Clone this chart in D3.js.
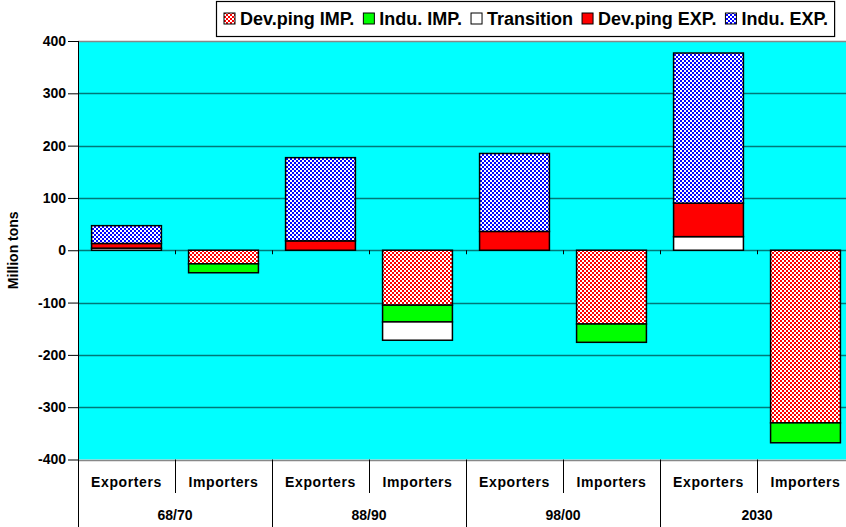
<!DOCTYPE html>
<html>
<head>
<meta charset="utf-8">
<script src="https://cdn.jsdelivr.net/npm/d3@7"></script>
<style>
  body { margin: 0; background: #fff; }
  text { font-family: "Liberation Sans", Arial, sans-serif; font-weight: bold; fill: #000; }
</style>
</head>
<body>
<div id="plot"></div>
<script>
// chart data
const groups = ["68/70", "88/90", "98/00", "2030"];
const roles = ["Exporters", "Importers"];
const yTicks = [400, 300, 200, 100, 0, -100, -200, -300, -400];

// one value per bar (Exporters, Importers for each period)
const devImp     = [0, -26, 0, -105, 0, -141, 0, -330];
const induImp    = [0, -17, 0,  -32, 0,  -35, 0,  -38];
const transition = [4,   0, 0,  -35, 0,    0, 26,   0];
const devExp     = [9,   0, 18,   0, 36,   0, 64,   0];
const induExp    = [34,  0, 159,  0, 149,  0, 287,  0];

const W = 846, H = 527;
const plot = { left: 78, right: 854, top: 41, bottom: 459.5 };

const svg = d3.select("div#plot")
  .append("svg")
  .attr("width", W)
  .attr("height", H);

// patterns for the dithered fills
const defs = svg.append("defs");
function checker(id, color) {
  const p = defs.append("pattern")
    .attr("id", id)
    .attr("width", 4).attr("height", 4)
    .attr("patternUnits", "userSpaceOnUse");
  p.append("rect").attr("width", 4).attr("height", 4).attr("fill", "#fff");
  p.append("rect").attr("width", 2).attr("height", 2).attr("fill", color);
  p.append("rect").attr("x", 2).attr("y", 2).attr("width", 2).attr("height", 2).attr("fill", color);
}
checker("hatchRed", "#ff0000");
checker("hatchBlue", "#0000ff");

// series: bottom-up for exporters, top-down for importers
const series = [
  { name: "Dev.ping IMP.", values: devImp, fill: "url(#hatchRed)" },
  { name: "Indu. IMP.", values: induImp, fill: "#00ff00" },
  { name: "Transition", values: transition, fill: "#ffffff" },
  { name: "Dev.ping EXP.", values: devExp, fill: "#ff0000" },
  { name: "Indu. EXP.", values: induExp, fill: "url(#hatchBlue)" }
];
const stackOrder = ["Transition", "Dev.ping EXP.", "Indu. EXP.", "Dev.ping IMP.", "Indu. IMP."];
const negOrder = ["Dev.ping IMP.", "Indu. IMP.", "Transition"];

const cats = [];
groups.forEach(g => roles.forEach(r => cats.push(g + "|" + r)));

const x = d3.scaleBand().domain(cats).range([plot.left, plot.right]).paddingInner(0.28).paddingOuter(0.14);
const xSlot = d3.scaleBand().domain(cats).range([plot.left, plot.right]);
const y = d3.scaleLinear().domain([-400, 400]).range([plot.bottom, plot.top]);

// plot background
svg.append("rect")
  .attr("x", plot.left).attr("y", plot.top)
  .attr("width", plot.right - plot.left).attr("height", plot.bottom - plot.top)
  .attr("fill", "#00ffff");

// gridlines
svg.append("g")
  .selectAll("line")
  .data(yTicks)
  .join("line")
  .attr("x1", plot.left).attr("x2", plot.right)
  .attr("y1", d => Math.round(y(d)) + 0.5).attr("y2", d => Math.round(y(d)) + 0.5)
  .attr("stroke", d => (d === 400 || d === -400) ? "#888" : "#007878")
  .attr("stroke-width", 1.3);

// stacked bars (manual cumulative so importers stack in their own order)
const bars = [];
cats.forEach((c, i) => {
  let pos = 0, neg = 0;
  stackOrder.forEach(name => {
    const s = series.find(d => d.name === name);
    const v = s.values[i];
    if (v > 0) { bars.push({ c, y0: pos, y1: pos + v, fill: s.fill }); pos += v; }
  });
  negOrder.forEach(name => {
    const s = series.find(d => d.name === name);
    const v = s.values[i];
    if (v < 0) { bars.push({ c, y0: neg, y1: neg + v, fill: s.fill }); neg += v; }
  });
});

svg.append("g")
  .selectAll("rect")
  .data(bars)
  .join("rect")
  .attr("x", d => x(d.c))
  .attr("width", x.bandwidth())
  .attr("y", d => y(Math.max(d.y0, d.y1)))
  .attr("height", d => Math.abs(y(d.y0) - y(d.y1)))
  .attr("fill", d => d.fill)
  .attr("stroke", "#000")
  .attr("stroke-width", 1.5);

// small ticks on the zero line at slot boundaries
svg.append("g")
  .selectAll("line")
  .data(cats.slice(1))
  .join("line")
  .attr("x1", d => Math.round(xSlot(d)) + 0.5).attr("x2", d => Math.round(xSlot(d)) + 0.5)
  .attr("y1", y(0)).attr("y2", y(0) + 4)
  .attr("stroke", "#000");

// y axis
const yAxis = svg.append("g")
  .attr("transform", `translate(${plot.left},0)`)
  .call(d3.axisLeft(y).tickValues(yTicks).tickSize(10).tickFormat(d => String(d)));
yAxis.select(".domain").remove();
yAxis.selectAll(".tick line").attr("stroke", "#000");
yAxis.selectAll(".tick text").attr("x", -12).style("font-size", "14px").attr("font-family", null);

svg.append("line")
  .attr("x1", plot.left + 0.5).attr("x2", plot.left + 0.5)
  .attr("y1", plot.top).attr("y2", H)
  .attr("stroke", "#000");

svg.append("text")
  .attr("transform", `translate(18,${(plot.top + plot.bottom) / 2}) rotate(-90)`)
  .attr("text-anchor", "middle")
  .style("font-size", "14px")
  .text("Million tons");

// category axis: role labels, group labels and separators
svg.append("g")
  .selectAll("line")
  .data(cats.slice(1))
  .join("line")
  .attr("x1", d => Math.round(xSlot(d)) + 0.5).attr("x2", d => Math.round(xSlot(d)) + 0.5)
  .attr("y1", plot.bottom)
  .attr("y2", d => d.endsWith("Exporters") ? H : 493)
  .attr("stroke", "#000");

svg.append("g")
  .selectAll("text")
  .data(cats)
  .join("text")
  .attr("x", d => xSlot(d) + xSlot.bandwidth() / 2)
  .attr("y", 487)
  .attr("text-anchor", "middle")
  .style("font-size", "14px")
  .style("letter-spacing", "0.6px")
  .text(d => d.split("|")[1]);

svg.append("g")
  .selectAll("text")
  .data(groups)
  .join("text")
  .attr("x", g => xSlot(g + "|Exporters") + xSlot.bandwidth())
  .attr("y", 520)
  .attr("text-anchor", "middle")
  .style("font-size", "14px")
  .text(g => g);

// legend
const legend = svg.append("g");
const legendBox = legend.append("rect")
  .attr("fill", "#fff").attr("stroke", "#000").attr("stroke-width", 1.2);
let lx = 224;
series.forEach(s => {
  legend.append("rect")
    .attr("x", lx).attr("y", 13)
    .attr("width", 11).attr("height", 11)
    .attr("fill", s.fill)
    .attr("stroke", "#000");
  const t = legend.append("text")
    .attr("x", lx + 16).attr("y", 25)
    .style("font-size", "18px")
    .text(s.name);
  lx += 16 + t.node().getComputedTextLength() + 9;
});
legendBox.attr("x", 216.5).attr("y", 1.5).attr("width", lx - 216 - 3).attr("height", 35);
</script>
</body>
</html>
